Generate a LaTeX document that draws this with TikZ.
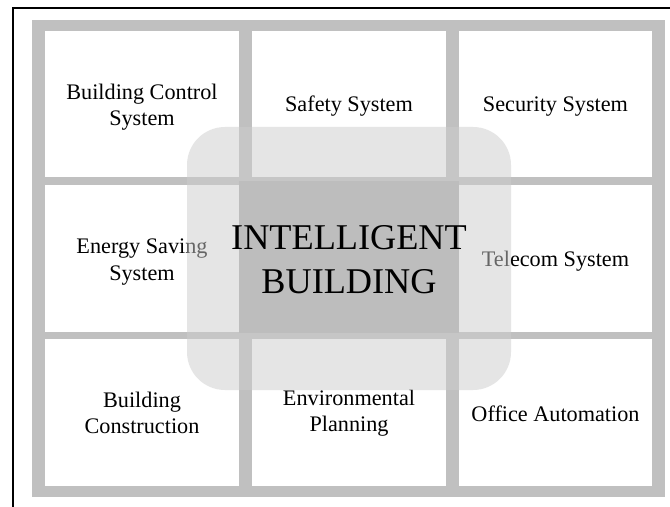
\documentclass[tikz,border=0pt]{standalone}
\usepackage{fontspec}
\setmainfont{Liberation Serif}
\begin{document}
\begin{tikzpicture}[x=1bp,y=-1bp,
  cellbox/.style={fill=white},
  celltext/.style={align=center,font=\fontsize{22.3}{26.2}\selectfont,text=black},
  bigtext/.style={align=center,font=\fontsize{36.4}{44}\selectfont,text=black}]
\definecolor{framegray}{RGB}{192,192,192}
\definecolor{centergray}{RGB}{189,189,189}
\definecolor{overlaygray}{RGB}{204,204,204}
\useasboundingbox (0,0) rectangle (670,507);
\fill[white] (0,0) rectangle (670,507);
% outer black border
\draw[line width=2bp] (13,507) -- (13,8) -- (670,8);
% gray frame
\fill[framegray] (32,20) rectangle (665,497);
% white cells
\foreach \xa/\xb in {45/239,252/446,459/652}{
  \foreach \ya/\yb in {31/177,185/332,339/486}{
    \fill[cellbox] (\xa,\ya) rectangle (\xb,\yb);
  }
}
% cell texts
\node[celltext] (bcs) at (142,107) {Building Control\\System};
\node[celltext] (saf) at (349,106.5) {Safety System};
\node[celltext] (sec) at (555.5,107) {Security System};
\node[celltext] (ene) at (142,262) {Energy Saving\\System};
\node[celltext] (tel) at (555.5,261.5) {Telecom System};
\node[celltext] (con) at (142,413) {Building\\Construction};
\node[celltext] (env) at (349,413) {Environmental\\Planning};
\node[celltext] (off) at (555.5,413.5) {Office Automation};
% translucent overlay
\fill[overlaygray,opacity=0.5,rounded corners=38bp] (187,127) rectangle (511,390);
% center block
\fill[centergray] (239,181) rectangle (459,333);
\node[bigtext] (ib) at (349,260) {INTELLIGENT\\BUILDING};
\end{tikzpicture}
\end{document}
